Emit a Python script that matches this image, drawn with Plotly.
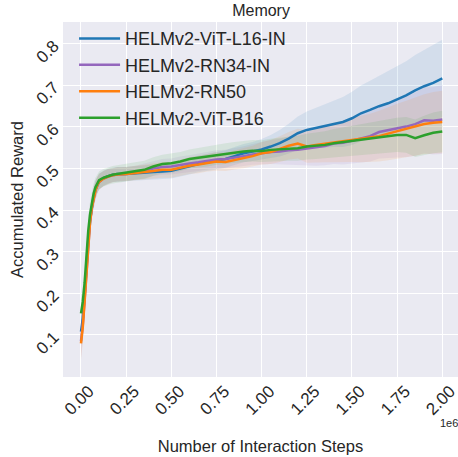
import plotly.graph_objects as go

# ---- data ----
steps = [0, 10000, 20000, 30000, 40000, 50000, 60000, 70000, 80000, 90000, 100000,
         125000, 150000, 175000, 200000,
         250000, 300000, 350000, 400000, 450000, 500000, 550000, 600000, 650000, 700000,
         750000, 800000, 850000, 900000, 950000, 1000000, 1050000, 1100000, 1150000, 1200000,
         1250000, 1300000, 1350000, 1400000, 1450000, 1500000, 1550000, 1600000, 1650000, 1700000,
         1750000, 1800000, 1850000, 1900000, 1950000, 2000000]

vit_l16_in = [0.108, 0.140, 0.195, 0.265, 0.325, 0.375, 0.410, 0.433, 0.449, 0.461, 0.469,
              0.477, 0.482, 0.485, 0.487,
              0.487, 0.489, 0.491, 0.492, 0.493, 0.495, 0.500, 0.506, 0.511, 0.515,
              0.519, 0.523, 0.530, 0.537, 0.541, 0.546, 0.553, 0.561, 0.572, 0.585,
              0.593, 0.598, 0.603, 0.608, 0.612, 0.621, 0.633, 0.641, 0.650, 0.657,
              0.666, 0.676, 0.688, 0.698, 0.706, 0.717]
rn34_in = [0.085, 0.125, 0.185, 0.255, 0.318, 0.372, 0.407, 0.431, 0.448, 0.460, 0.468,
           0.476, 0.481, 0.484, 0.486,
           0.487, 0.490, 0.494, 0.500, 0.504, 0.505, 0.509, 0.512, 0.515, 0.519,
           0.522, 0.523, 0.526, 0.530, 0.534, 0.537, 0.540, 0.541, 0.544, 0.545,
           0.548, 0.550, 0.554, 0.560, 0.562, 0.567, 0.573, 0.578, 0.588, 0.592,
           0.597, 0.601, 0.607, 0.616, 0.615, 0.618]
rn50 = [0.080, 0.120, 0.180, 0.250, 0.315, 0.370, 0.405, 0.430, 0.447, 0.460, 0.468,
        0.476, 0.481, 0.484, 0.486,
        0.487, 0.489, 0.491, 0.494, 0.497, 0.497, 0.502, 0.507, 0.510, 0.514,
        0.517, 0.516, 0.521, 0.525, 0.530, 0.537, 0.540, 0.547, 0.555, 0.560,
        0.553, 0.557, 0.560, 0.563, 0.565, 0.569, 0.571, 0.574, 0.578, 0.584,
        0.590, 0.595, 0.601, 0.607, 0.610, 0.612]
vit_b16 = [0.152, 0.180, 0.225, 0.290, 0.350, 0.390, 0.420, 0.440, 0.455, 0.465, 0.472,
           0.478, 0.482, 0.485, 0.487,
           0.490, 0.494, 0.497, 0.505, 0.511, 0.513, 0.517, 0.523, 0.526, 0.529,
           0.533, 0.536, 0.539, 0.541, 0.543, 0.542, 0.545, 0.546, 0.548, 0.549,
           0.553, 0.555, 0.557, 0.561, 0.564, 0.567, 0.569, 0.572, 0.575, 0.578,
           0.581, 0.581, 0.573, 0.580, 0.586, 0.589]

# spread (half-width of the shaded band)
vit_l16_in_sd = [0.035, 0.035, 0.035, 0.035, 0.033, 0.030, 0.027, 0.024, 0.022, 0.020, 0.019,
                 0.018, 0.018, 0.017, 0.017,
                 0.017, 0.017, 0.018, 0.018, 0.018, 0.019, 0.019, 0.020, 0.020, 0.020,
                 0.021, 0.021, 0.022, 0.022, 0.023, 0.025, 0.028, 0.032, 0.036, 0.040,
                 0.044, 0.048, 0.052, 0.056, 0.060, 0.064, 0.067, 0.070, 0.073, 0.076,
                 0.079, 0.082, 0.085, 0.088, 0.091, 0.093]
rn34_in_sd = [0.040, 0.038, 0.036, 0.035, 0.033, 0.030, 0.027, 0.024, 0.022, 0.020, 0.019,
              0.018, 0.018, 0.017, 0.017,
              0.017, 0.017, 0.018, 0.018, 0.019, 0.019, 0.020, 0.020, 0.021, 0.021,
              0.022, 0.022, 0.023, 0.024, 0.025, 0.027, 0.029, 0.031, 0.034, 0.037,
              0.040, 0.043, 0.046, 0.049, 0.052, 0.055, 0.058, 0.061, 0.064, 0.067,
              0.070, 0.073, 0.076, 0.079, 0.081, 0.083]
rn50_sd = [0.040, 0.038, 0.036, 0.035, 0.033, 0.030, 0.027, 0.024, 0.022, 0.020, 0.019,
           0.018, 0.018, 0.017, 0.017,
           0.017, 0.017, 0.018, 0.018, 0.019, 0.019, 0.020, 0.020, 0.021, 0.021,
           0.022, 0.022, 0.023, 0.024, 0.025, 0.027, 0.029, 0.031, 0.033, 0.036,
           0.039, 0.042, 0.045, 0.048, 0.050, 0.053, 0.056, 0.058, 0.061, 0.064,
           0.066, 0.068, 0.070, 0.072, 0.074, 0.075]
vit_b16_sd = [0.035, 0.035, 0.035, 0.034, 0.032, 0.030, 0.027, 0.025, 0.023, 0.022, 0.021,
              0.021, 0.021, 0.021, 0.021,
              0.021, 0.021, 0.022, 0.022, 0.022, 0.023, 0.023, 0.023, 0.024, 0.024,
              0.024, 0.025, 0.025, 0.025, 0.026, 0.026, 0.027, 0.028, 0.029, 0.030,
              0.031, 0.032, 0.033, 0.034, 0.035, 0.036, 0.037, 0.038, 0.039, 0.040,
              0.041, 0.043, 0.045, 0.047, 0.049, 0.050]

series_names = ["HELMv2-ViT-L16-IN", "HELMv2-RN34-IN", "HELMv2-RN50", "HELMv2-ViT-B16"]
series_means = [vit_l16_in, rn34_in, rn50, vit_b16]
series_sds = [vit_l16_in_sd, rn34_in_sd, rn50_sd, vit_b16_sd]
colors = ["#1f77b4", "#9467bd", "#ff7f0e", "#2ca02c"]
fill_rgb = ["31,119,180", "148,103,189", "255,127,14", "44,160,44"]

x_tick_vals = [0, 250000, 500000, 750000, 1000000, 1250000, 1500000, 1750000, 2000000]
x_tick_text = ["0.00", "0.25", "0.50", "0.75", "1.00", "1.25", "1.50", "1.75", "2.00"]
y_tick_vals = [0.1, 0.2, 0.3, 0.4, 0.5, 0.6, 0.7, 0.8]
y_tick_text = ["0.1", "0.2", "0.3", "0.4", "0.5", "0.6", "0.7", "0.8"]

fig = go.Figure()

# shaded bands
for name, m, s, rgb in zip(series_names, series_means, series_sds, fill_rgb):
    upper = [a + b for a, b in zip(m, s)]
    lower = [a - b for a, b in zip(m, s)]
    fig.add_trace(go.Scatter(
        x=steps + steps[::-1], y=upper + lower[::-1],
        fill="toself", fillcolor=f"rgba({rgb},0.11)",
        line=dict(width=0), mode="lines", hoverinfo="skip", showlegend=False))

# mean lines
for name, m, c in zip(series_names, series_means, colors):
    fig.add_trace(go.Scatter(x=steps, y=m, mode="lines", name=name,
                             line=dict(color=c, width=2.5)))

font_family = "Liberation Sans, Arial, sans-serif"
text_color = "#262626"

fig.update_layout(
    width=458, height=457,
    margin=dict(l=63, r=0, t=22, b=80),
    paper_bgcolor="white", plot_bgcolor="#EAEAF2",
    font=dict(family=font_family, color=text_color, size=17),
    title=dict(text="Memory", x=0.57, xanchor="center", y=0.978, yanchor="middle",
               font=dict(size=16, color=text_color)),
    showlegend=True,
    legend=dict(x=0.028, y=1.005, xanchor="left", yanchor="top",
                bgcolor="rgba(0,0,0,0)", borderwidth=0, itemwidth=41,
                font=dict(size=18, color=text_color), tracegroupgap=0),
    xaxis=dict(range=[-99600, 2087000], tickvals=x_tick_vals, ticktext=x_tick_text,
               tickangle=-45, showgrid=True, gridcolor="white", gridwidth=1.4,
               zeroline=False, showline=False, ticks="", automargin=False,
               ticklabelshift=8, ticklabeloverflow="allow",
               title=dict(text="Number of Interaction Steps", font=dict(size=16.5), standoff=22),
               tickfont=dict(size=17)),
    yaxis=dict(range=[-0.001, 0.8524], tickvals=y_tick_vals, ticktext=y_tick_text,
               tickangle=-45, showgrid=True, gridcolor="white", gridwidth=1.4,
               zeroline=False, showline=False, ticks="", automargin=False,
               ticklabelstandoff=8, ticklabeloverflow="allow",
               title=dict(text="Accumulated Reward", font=dict(size=16.5), standoff=4),
               tickfont=dict(size=17)),
    annotations=[dict(text="1e6", xref="paper", yref="paper", x=0.949, y=-0.1296,
                      xanchor="left", yanchor="middle", showarrow=False,
                      font=dict(size=11, color=text_color))],
)

fig.write_html("out.html", config={"displayModeBar": False},
               post_script="document.body.style.margin='0px';")
